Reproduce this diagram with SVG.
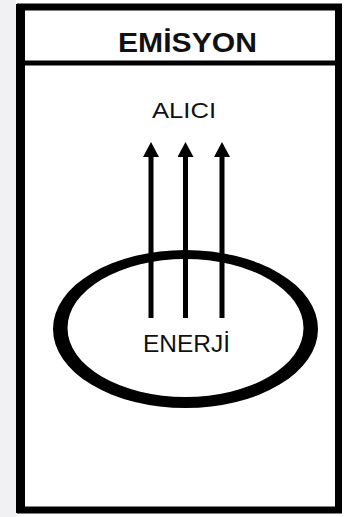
<svg xmlns="http://www.w3.org/2000/svg" width="345" height="517" viewBox="0 0 345 517">
  <style>
    .lbl { font-family: "Liberation Sans", Arial, sans-serif; fill: #111; text-anchor: middle; }
    .frame { fill: none; stroke: #000; }
    .shaft { stroke: #000; stroke-width: 5; fill: none; }
  </style>
  <defs>
    <marker id="head" markerUnits="userSpaceOnUse" markerWidth="15" markerHeight="16" viewBox="0 0 15 16" refX="0" refY="8" orient="auto">
      <path d="M0,0 L15,8 L0,16 Z" fill="#000"/>
    </marker>
  </defs>
  <rect x="0" y="0" width="345" height="517" fill="#ffffff"/>
  <rect x="0" y="0" width="16" height="517" fill="#f1f1f3"/>
  <g id="frame">
    <rect x="20.5" y="7" width="318" height="503" fill="#fff" class="frame" stroke-width="7"/>
    <line x1="20.5" y1="4" x2="20.5" y2="513" stroke="#000" stroke-width="9"/>
    <line x1="17" y1="63" x2="342" y2="63" stroke="#000" stroke-width="5"/>
  </g>
  <g id="header">
    <text class="lbl" x="187.5" y="52" font-size="28" font-weight="bold" textLength="139" lengthAdjust="spacingAndGlyphs">EMİSYON</text>
  </g>
  <g id="alici">
    <text class="lbl" x="184" y="118" font-size="22" textLength="64" lengthAdjust="spacingAndGlyphs">ALICI</text>
  </g>
  <g id="enerji">
    <path d="M53,329 A132.5,79 0 1,0 318,329 A132.5,79 0 1,0 53,329 Z M67.5,328 A118,69 0 1,0 303.5,328 A118,69 0 1,0 67.5,328 Z" fill="#000" fill-rule="evenodd"/>
    <text class="lbl" x="186.5" y="352" font-size="24.5" textLength="87" lengthAdjust="spacingAndGlyphs">ENERJİ</text>
  </g>
  <g id="connectors">
    <line class="shaft" x1="151" y1="318" x2="151" y2="157" marker-end="url(#head)"/>
    <line class="shaft" x1="185.5" y1="318" x2="185.5" y2="157" marker-end="url(#head)"/>
    <line class="shaft" x1="222" y1="318" x2="222" y2="157" marker-end="url(#head)"/>
  </g>
</svg>
